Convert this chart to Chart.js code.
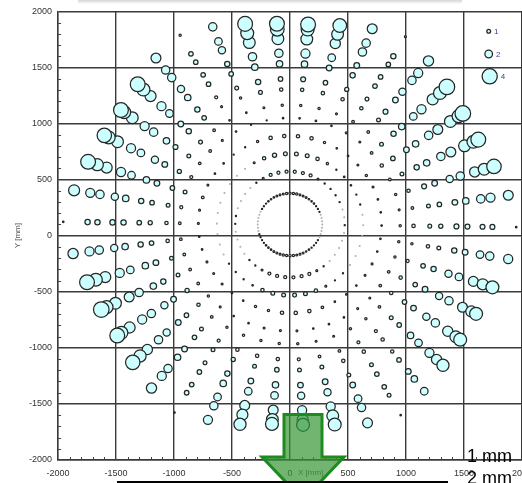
<!DOCTYPE html>
<html>
<head>
<meta charset="utf-8">
<script src="https://cdn.jsdelivr.net/npm/chart.js@4.4.1/dist/chart.umd.min.js"></script>
<style>
  html, body { margin: 0; padding: 0; background: #fff; overflow: hidden; width: 522px; height: 483px; }
  #wrap { position: relative; width: 540px; height: 483px; }
  canvas { display: block; }
</style>
</head>
<body>
<div id="wrap"><canvas id="c" width="540" height="483"></canvas></div>
<script>
// Measurement layout: 42 radial lines around the centre, fixed measuring radii [mm]
const centreX = 0;
const centreY = 100;
const spokeAngles = [-0.7, 7.9, 16.4, 25.0, 33.6, 42.2, 50.7, 59.3, 67.9, 76.4, 85.0, 93.6, 102.2, 110.7,
  119.3, 127.9, 136.4, 145.0, 153.6, 162.2, 170.7, 179.3, 187.9, 196.4, 205.0, 213.6, 222.2, 230.7,
  239.3, 247.9, 256.4, 265.0, 273.6, 282.2, 290.7, 299.3, 307.9, 316.4, 325.0, 333.6, 342.2, 350.7];
const ringRadii = [472, 631, 790, 950, 1065, 1205, 1300, 1435, 1530, 1660, 1745];
// outermost measuring radius on each line [mm]
const outerRadii = [1950, 1900, 1833, 1791, 1789, 1826, 1885, 1948, 1884, 1825, 1790, 1793, 1830, 1884,
  1935, 1881, 1813, 1779, 1787, 1828, 1886, 1955, 1888, 1824, 1795, 1788, 1830, 1885,
  1950, 1880, 1833, 1785, 1790, 1825, 1891, 1950, 1884, 1821, 1791, 1791, 1833, 1906];

// measured value per line: one entry per ring radius, last entry = outermost point
const lineValues = [
  [0.3, 0.2, 0.4, 0.6, 0.9, 1.0, 1.1, 1.3, 1.3, 1.3, 1.3, 0.4],
  [0.2, 0.2, 0.4, 0.5, 0.7, 1.0, 1.2, 1.5, 1.7, 2.2, 2.4, 2.6],
  [0.2, 0.3, 0.4, 0.6, 0.9, 1.3, 1.5, 1.9, 2.2, 2.7, 3.1, 3.8],
  [0.3, 0.3, 0.5, 0.7, 1.0, 1.4, 1.7, 2.2, 2.6, 3.1, 3.4, 3.9],
  [0.3, 0.4, 0.6, 0.9, 1.2, 1.5, 1.7, 2.2, 2.6, 3.1, 3.4, 4.1],
  [0.3, 0.4, 0.5, 0.7, 1.0, 1.4, 1.7, 2.0, 2.4, 2.9, 3.4, 4.1],
  [0.3, 0.3, 0.4, 0.5, 0.7, 1.0, 1.3, 1.5, 1.9, 2.2, 2.4, 2.7],
  [0.5, 0.6, 0.4, 0.5, 0.7, 0.9, 1.0, 1.2, 1.2, 1.2, 1.4, 0.5],
  [0.8, 0.9, 0.6, 0.4, 0.5, 0.9, 1.1, 1.4, 1.5, 2.2, 2.2, 2.6],
  [0.8, 1.0, 0.9, 0.4, 0.6, 0.9, 1.2, 1.5, 2.0, 2.7, 3.1, 3.6],
  [0.8, 1.0, 0.9, 0.4, 0.6, 0.9, 1.3, 1.7, 2.4, 3.1, 3.4, 3.9],
  [0.8, 1.0, 0.9, 0.4, 0.6, 0.9, 1.2, 1.7, 2.2, 3.1, 3.6, 3.9],
  [0.8, 1.1, 0.9, 0.3, 0.5, 1.0, 1.4, 1.7, 2.2, 3.1, 3.4, 3.9],
  [0.8, 0.9, 0.6, 0.3, 0.4, 0.6, 1.0, 1.2, 1.4, 1.9, 2.0, 2.2],
  [0.5, 0.5, 0.3, 0.4, 0.4, 0.5, 0.8, 1.2, 1.2, 1.2, 1.2, 0.6],
  [0.3, 0.2, 0.3, 0.5, 0.7, 1.2, 1.4, 1.7, 1.9, 2.2, 2.2, 2.6],
  [0.2, 0.2, 0.4, 0.7, 1.0, 1.4, 1.5, 2.0, 2.4, 2.9, 3.4, 3.9],
  [0.2, 0.2, 0.4, 0.7, 1.0, 1.3, 1.7, 2.2, 2.4, 3.1, 3.4, 3.9],
  [0.2, 0.2, 0.5, 0.8, 1.1, 1.5, 1.9, 2.0, 2.4, 3.1, 3.4, 3.8],
  [0.2, 0.2, 0.7, 1.0, 1.2, 1.5, 1.7, 2.0, 2.4, 2.9, 3.2, 3.9],
  [0.3, 0.2, 0.5, 0.8, 1.0, 1.2, 1.4, 1.7, 1.9, 2.2, 2.4, 2.9],
  [0.3, 0.2, 0.5, 0.7, 0.9, 1.1, 1.2, 1.4, 1.4, 1.4, 1.4, 0.4],
  [0.2, 0.2, 0.4, 0.7, 0.9, 1.2, 1.4, 1.7, 1.9, 2.2, 2.4, 2.7],
  [0.2, 0.2, 0.4, 0.7, 1.0, 1.5, 1.7, 2.0, 2.4, 2.9, 3.4, 3.9],
  [0.2, 0.2, 0.5, 0.7, 1.0, 1.4, 1.7, 2.2, 2.6, 3.1, 3.4, 4.1],
  [0.2, 0.3, 0.5, 0.7, 1.1, 1.5, 1.9, 2.2, 2.4, 2.9, 3.4, 3.9],
  [0.3, 0.3, 0.5, 0.6, 0.9, 1.2, 1.5, 1.9, 2.2, 2.7, 3.2, 3.8],
  [0.3, 0.3, 0.4, 0.5, 0.7, 1.0, 1.2, 1.5, 1.7, 2.2, 2.4, 2.7],
  [0.5, 0.4, 0.4, 0.4, 0.6, 0.8, 1.0, 1.0, 1.2, 1.2, 1.2, 0.4],
  [0.8, 0.9, 0.6, 0.4, 0.6, 0.9, 1.1, 1.4, 1.7, 2.0, 2.2, 2.4],
  [0.8, 1.0, 0.6, 0.5, 0.6, 0.9, 1.0, 1.5, 2.0, 2.6, 2.9, 3.2],
  [0.8, 1.0, 0.9, 0.5, 0.6, 0.9, 1.2, 1.7, 2.0, 2.6, 3.1, 3.4],
  [0.8, 1.0, 0.9, 0.5, 0.6, 0.8, 1.0, 1.5, 1.9, 2.4, 2.9, 3.4],
  [0.8, 1.0, 0.9, 0.4, 0.5, 0.7, 1.0, 1.5, 1.9, 2.4, 3.1, 3.4],
  [0.8, 0.9, 0.7, 0.4, 0.5, 0.7, 0.9, 1.0, 1.5, 2.0, 2.2, 2.6],
  [0.5, 0.5, 0.4, 0.4, 0.6, 0.8, 0.9, 1.0, 1.2, 1.2, 1.0, 0.4],
  [0.3, 0.3, 0.4, 0.5, 0.6, 0.8, 0.9, 0.9, 1.2, 1.5, 1.7, 2.0],
  [0.2, 0.3, 0.4, 0.5, 0.7, 1.0, 1.2, 1.7, 2.0, 2.4, 2.7, 3.2],
  [0.2, 0.2, 0.5, 0.7, 0.9, 1.2, 1.5, 1.9, 2.2, 2.7, 3.1, 3.4],
  [0.2, 0.2, 0.5, 0.7, 0.9, 1.2, 1.5, 1.9, 2.2, 2.6, 2.9, 3.4],
  [0.2, 0.2, 0.4, 0.6, 0.8, 1.2, 1.4, 1.9, 2.0, 2.6, 2.9, 3.4],
  [0.2, 0.2, 0.4, 0.6, 0.6, 0.9, 1.0, 1.4, 1.5, 2.0, 2.2, 2.4]
];

// inner measuring circle
const innerRadius = 278;
const innerAngles = [0, 6, 12, 18, 24, 30, 36, 42, 48, 54, 60, 66, 72, 78, 84, 90, 96, 102, 108, 114,
  120, 126, 132, 138, 144, 150, 156, 162, 168, 174, 180, 186, 192, 198, 204, 210, 216, 222, 228, 234,
  240, 246, 252, 258, 264, 270, 276, 282, 288, 294, 300, 306, 312, 318, 324, 330, 336, 342, 348, 354];
const innerValues = [0.2, 0.2, 0.2, 0.2, 0.3, 0.3, 0.3, 0.4, 0.4, 0.4, 0.5, 0.5, 0.5, 0.6, 0.6, 0.6, 0.6, 0.5, 0.5, 0.5,
  0.4, 0.4, 0.4, 0.3, 0.3, 0.3, 0.2, 0.2, 0.2, 0.2, 0.2, 0.2, 0.2, 0.3, 0.3, 0.3, 0.3, 0.4, 0.4, 0.4,
  0.5, 0.5, 0.5, 0.6, 0.6, 0.6, 0.6, 0.5, 0.5, 0.5, 0.4, 0.4, 0.3, 0.3, 0.3, 0.3, 0.2, 0.2, 0.2, 0.2];

const legendValues = [1, 2, 4];
const axisTicks = { min: -2000, max: 2000, step: 500, minor: 100 };

// pixel radius per unit of measured value
const PX_PER_UNIT = 1.9;
const DEG = Math.PI / 180;

// spoke points, inner rings first so the outer bubbles sit on top
const spokePoints = [];
for (let j = 0; j <= ringRadii.length; j++) {
  for (let k = 0; k < spokeAngles.length; k++) {
    const v = lineValues[k][j];
    const rad = j < ringRadii.length ? ringRadii[j] : outerRadii[k];
    const a = spokeAngles[k] * DEG;
    spokePoints.push({ x: centreX + rad * Math.cos(a), y: centreY + rad * Math.sin(a), r: v * PX_PER_UNIT, v });
  }
}
const innerPoints = innerAngles.map((deg, i) => ({
  x: centreX + innerRadius * Math.cos(deg * DEG),
  y: centreY + innerRadius * Math.sin(deg * DEG),
  r: innerValues[i] * PX_PER_UNIT,
  v: innerValues[i]
}));

const FILL = '#ccffff';
const EDGE = '#262626';
const edgeFor = ctx => (ctx.raw && ctx.raw.v < 0.3) ? '#a8a8a8' : EDGE;

const overlay = {
  id: 'overlay',
  beforeDraw(chart) {
    const c = chart.ctx;
    c.save();
    c.fillStyle = '#ffffff';
    c.fillRect(0, 0, chart.width, chart.height);
    // faint shadow band along the top edge
    const g = c.createLinearGradient(0, 0, 0, 4);
    g.addColorStop(0, 'rgba(0,0,0,0.16)');
    g.addColorStop(1, 'rgba(0,0,0,0)');
    c.fillStyle = g;
    c.fillRect(78, 0, 384, 4);
    c.restore();
  },
  afterDatasetsDraw(chart) {
    const c = chart.ctx;
    const xs = chart.scales.x, ys = chart.scales.y;
    const area = chart.chartArea;
    c.save();
    // minor ticks on the left and bottom axes
    c.strokeStyle = '#444';
    c.lineWidth = 1;
    c.beginPath();
    for (let v = axisTicks.min; v <= axisTicks.max; v += axisTicks.minor) {
      if (v % axisTicks.step === 0) continue;
      const py = Math.round(ys.getPixelForValue(v)) + 0.5;
      c.moveTo(area.left, py); c.lineTo(area.left + 3, py);
      const px = Math.round(xs.getPixelForValue(v)) + 0.5;
      c.moveTo(px, area.bottom); c.lineTo(px, area.bottom - 3);
    }
    c.stroke();

    // size legend
    c.font = '8px "Liberation Sans", Arial, sans-serif';
    c.textBaseline = 'middle';
    c.textAlign = 'left';
    const legendX = [488.7, 488.7, 489.7];
    const legendY = [31.3, 54, 76.3];
    legendValues.forEach((val, i) => {
      const r = val * PX_PER_UNIT;
      c.beginPath();
      c.arc(legendX[i], legendY[i], r, 0, Math.PI * 2);
      c.fillStyle = FILL; c.fill();
      c.strokeStyle = EDGE; c.lineWidth = 1.3; c.stroke();
      c.fillStyle = '#3c3c8c';
      c.fillText(String(val), legendX[i] + r + 3.5, legendY[i] + 0.5);
    });

    // x axis title beside the zero label
    c.fillStyle = '#555';
    c.font = '8px "Liberation Sans", Arial, sans-serif';
    c.textBaseline = 'top';
    c.fillText('X [mm]', xs.getPixelForValue(0) + 8, 469);

    // green downward arrow
    c.beginPath();
    c.moveTo(284, 414.5);
    c.lineTo(322, 414.5);
    c.lineTo(322, 457);
    c.lineTo(344, 457);
    c.lineTo(303, 500);
    c.lineTo(262, 457);
    c.lineTo(284, 457);
    c.closePath();
    c.fillStyle = 'rgba(52,150,52,0.7)';
    c.fill();
    c.lineJoin = 'miter';
    c.lineWidth = 3;
    c.strokeStyle = '#1f8a1f';
    c.stroke();

    // scale notes
    c.fillStyle = '#000';
    c.font = '18px "Liberation Sans", Arial, sans-serif';
    c.textBaseline = 'alphabetic';
    c.fillText('1 mm', 467, 462);
    c.fillText('2 mm', 467, 484);
    c.fillRect(117, 481, 331, 2);
    c.restore();
  }
};

const tickFont = { family: '"Liberation Sans", Arial, sans-serif', size: 9 };
const gridStyle = { color: '#3a3a3a', lineWidth: 1.4, drawTicks: false };

new Chart(document.getElementById('c'), {
  type: 'bubble',
  data: {
    datasets: [
      {
        label: 'rings',
        data: spokePoints,
        backgroundColor: FILL,
        borderColor: edgeFor,
        borderWidth: 1.25
      },
      {
        label: 'inner circle',
        data: innerPoints,
        backgroundColor: FILL,
        borderColor: edgeFor,
        borderWidth: 1.2
      }
    ]
  },
  options: {
    responsive: false,
    animation: false,
    devicePixelRatio: 1,
    events: [],
    layout: { padding: { top: 8, right: 16, left: 0, bottom: 0 } },
    plugins: { legend: { display: false }, tooltip: { enabled: false } },
    scales: {
      x: {
        type: 'linear',
        min: axisTicks.min, max: axisTicks.max,
        ticks: { stepSize: axisTicks.step, padding: 8, font: tickFont, color: '#333', maxRotation: 0, autoSkip: false, callback: v => String(v) },
        grid: gridStyle,
        border: { color: '#3a3a3a', width: 1.4 },
        afterFit: s => { s.height = 23; }
      },
      y: {
        type: 'linear',
        min: axisTicks.min, max: axisTicks.max,
        ticks: { stepSize: axisTicks.step, padding: 6, font: tickFont, color: '#333', autoSkip: false, callback: v => String(v) },
        grid: gridStyle,
        border: { color: '#3a3a3a', width: 1.4 },
        title: { display: true, text: 'Y [mm]', color: '#555', font: { family: '"Liberation Sans", Arial, sans-serif', size: 8 }, padding: { top: 13, bottom: 0 } },
        afterFit: s => { s.width = 58; }
      }
    }
  },
  plugins: [overlay]
});
</script>
</body>
</html>
